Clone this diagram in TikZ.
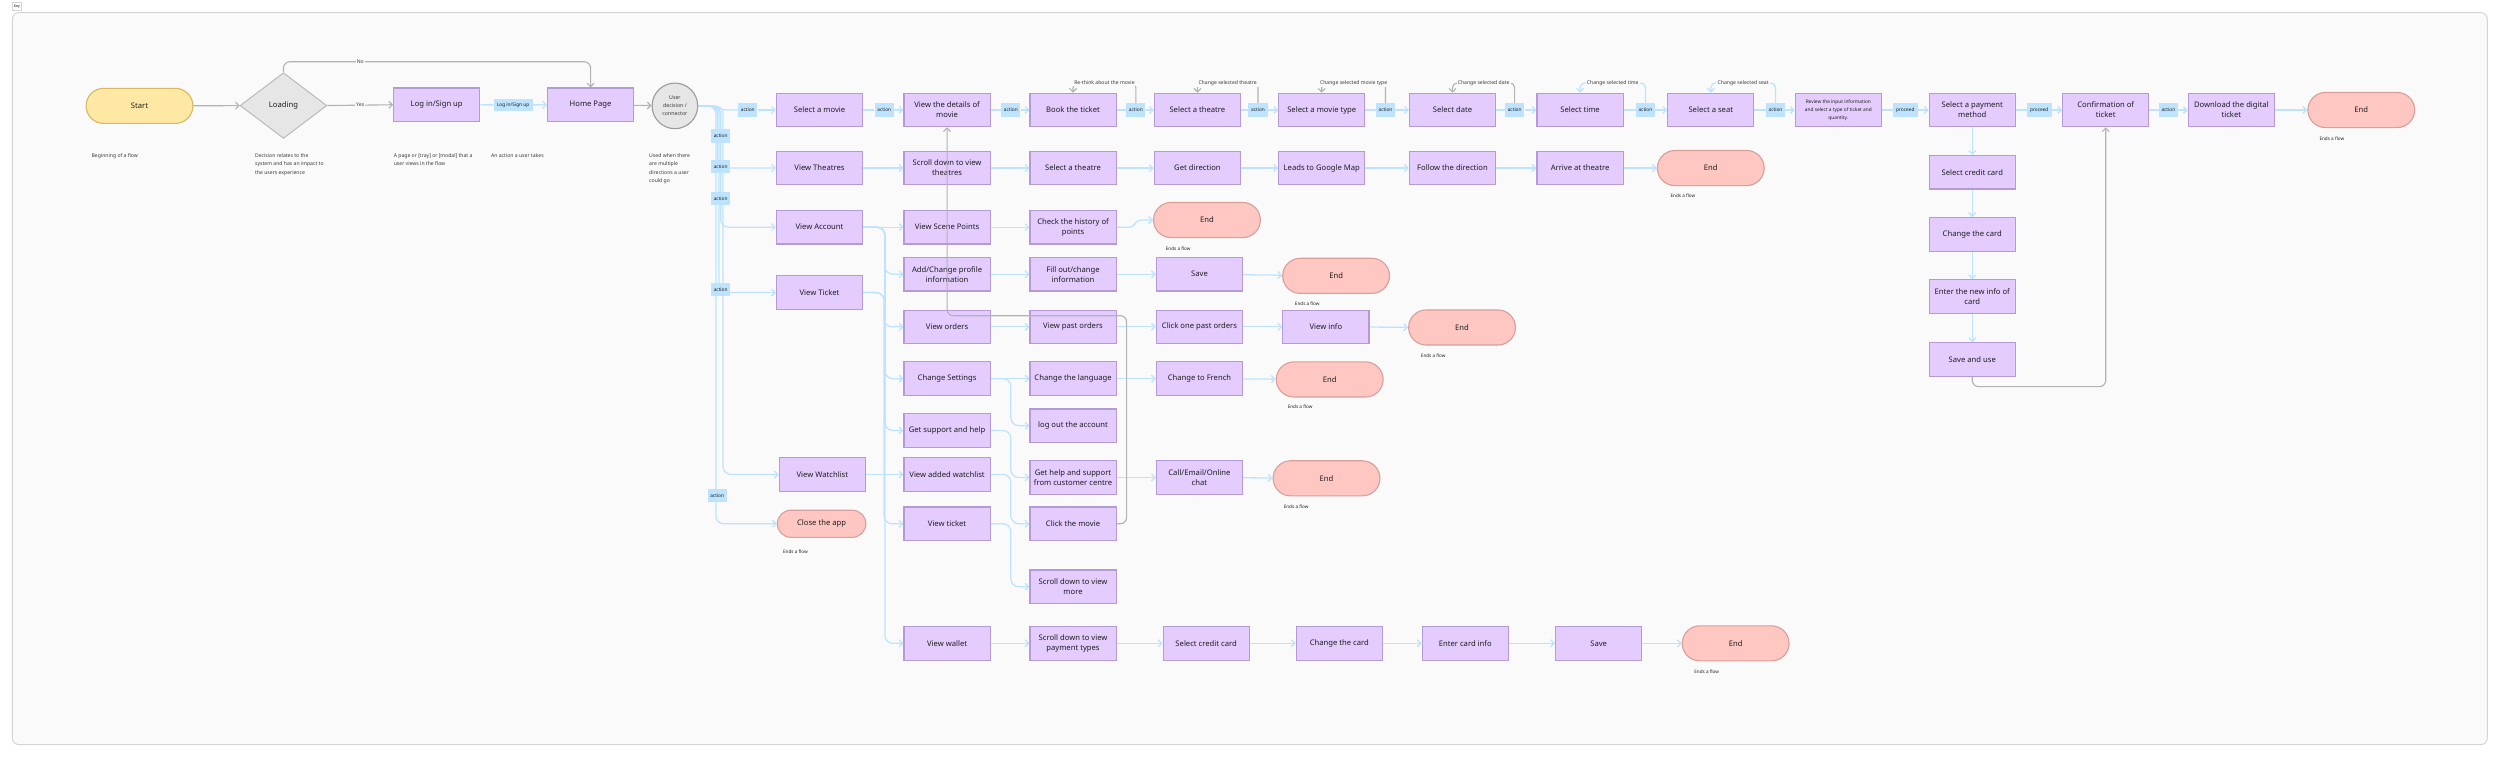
\documentclass[tikz,border=0pt]{standalone}
\usepackage{fontspec}
\setmainfont{Noto Sans}
\usetikzlibrary{arrows.meta,shapes.geometric}
\pgfdeclarelayer{bgA}
\pgfdeclarelayer{bgB}
\pgfsetlayers{bgA,bgB,main}
\definecolor{boxf}{HTML}{E4CCFF}
\definecolor{boxd}{HTML}{B49BD6}
\definecolor{endf}{HTML}{FFC7C2}
\definecolor{endd}{HTML}{D99F9A}
\definecolor{stf}{HTML}{FFE8A3}
\definecolor{std}{HTML}{D6B961}
\definecolor{gyf}{HTML}{E6E6E6}
\definecolor{gyd}{HTML}{B8B8B8}
\definecolor{bline}{HTML}{BDE3FF}
\definecolor{actf}{HTML}{BDE3FF}
\definecolor{gline}{HTML}{B3B3B3}
\definecolor{framef}{HTML}{FAFAFA}
\definecolor{framed}{HTML}{D4D4D4}
\definecolor{txt}{HTML}{1E1E1E}
\definecolor{txts}{HTML}{3A3A3A}
\newcommand\fzBox{\fontsize{4.8}{6.2}\selectfont}
\newcommand\fzSm{\fontsize{3.2}{5.2}\selectfont}
\newcommand\fzAct{\fontsize{3}{3.6}\selectfont}
\newcommand\fzRev{\fontsize{3}{4.9}\selectfont}
\newcommand\fzKey{\fontsize{2.2}{2.6}\selectfont}
\begin{document}
\begin{tikzpicture}[x=1pt,y=-1pt,
  pg/.style={draw=boxd, fill=boxf, line width=0.7pt, minimum width=54pt, minimum height=21pt, inner sep=0pt, align=center, font=\fzBox, text=txt},
  endp/.style={draw=endd, fill=endf, line width=0.7pt, rounded corners=11pt, minimum width=67pt, minimum height=22pt, inner sep=0pt, font=\fzBox\bfseries, text=txt},
  act/.style={fill=actf, inner sep=0pt, minimum width=12pt, minimum height=8.5pt, font=\fzAct, text=txt},
  lbl/.style={fill=framef, inner sep=0.8pt, font=\fzSm, text=txts},
  desc/.style={anchor=north west, align=left, inner sep=0pt, font=\fzSm, text=txts},
  efl/.style={anchor=west, inner sep=0pt, font=\fontsize{2.9}{3.4}\selectfont, text=txt},
  bln/.style={draw=bline, line width=0.8pt},
  bla/.style={bln, -{Straight Barb[length=2.2pt,width=4.4pt]}},
  grn/.style={draw=gline, line width=0.7pt},
  gra/.style={grn, -{Straight Barb[length=2.2pt,width=4.4pt]}}
]
\useasboundingbox (0,0) rectangle (1568,475);
\begin{pgfonlayer}{bgA}
\fill[white] (0,0) rectangle (1568,475);
\draw[fill=framef, draw=framed, line width=0.6pt, rounded corners=4pt] (7.8,7.9) rectangle (1560,467);
\end{pgfonlayer}
\node[draw=framed, fill=white, font=\fzKey, minimum width=5.7pt, minimum height=4.6pt, inner sep=0pt, line width=0.4pt] (key) at (10.6,4) {Key};

% ---------- legend row ----------
\node[draw=std, fill=stf, line width=0.7pt, rounded corners=11pt, minimum width=67pt, minimum height=22pt, inner sep=0pt, font=\fzBox, text=txt] (start) at (87.5,66.4) {Start};
\node[diamond, draw=gyd, fill=gyf, line width=0.6pt, minimum width=54.4pt, minimum height=41.2pt, inner sep=0pt, font=\fzBox, text=txt] (load) at (177.8,66.2) {Loading};
\node[pg] (login) at (273.9,65.7) {Log in/Sign up};
\node[act, minimum width=24.4pt, minimum height=7.6pt] (alog) at (321.8,65.8) {Log in/Sign up};
\node[pg] (home) at (370.4,65.7) {Home Page};
\node[circle, draw=gyd!85!black, fill=gyf, line width=0.7pt, minimum size=28.6pt, inner sep=0pt, align=center, font=\fontsize{3.3}{5}\selectfont, text=txts] (circ) at (423.3,66.4) {User\\decision /\\connector};

\node[desc] (d1) at (57.3,96.2) {Beginning of a flow};
\node[desc] (d2) at (159.8,96.2) {Decision relates to the\\system and has an impact to\\the users experience};
\node[desc] (d3) at (246.8,96.2) {A page or [tray] or [modal] that a\\user views in the flow};
\node[desc] (d4) at (307.8,96.2) {An action a user takes};
\node[desc] (d5) at (407,96.2) {Used when there\\are multiple\\directions a user\\could go};

% ---------- row 1 ----------
\node[pg] (sm) at (514,69) {Select a movie};
\node[pg] (vd) at (594,69) {View the details of\\movie};
\node[pg] (bt) at (673,69) {Book the ticket};
\node[pg] (st) at (751,69) {Select a theatre};
\node[pg] (smt) at (829,69) {Select a movie type};
\node[pg] (sd) at (911,69) {Select date};
\node[pg] (stm) at (991,69) {Select time};
\node[pg] (ss) at (1073,69) {Select a seat};
\node[pg, font=\fzRev] (rv) at (1153,69) {Review the input information\\and select a type of ticket and\\quantity.};
\node[pg] (spm) at (1237,69) {Select a payment\\method};
\node[pg] (conf) at (1320.7,69) {Confirmation of\\ticket};
\node[pg] (dl) at (1399.5,69) {Download the digital\\ticket};
\node[endp] (e1) at (1481,69) {End};
\node[efl] (f1) at (1454.6,86.8) {Ends a flow};

\node[act] (a1) at (469,69) {action};
\node[act] (a2) at (554.6,69) {action};
\node[act] (a3) at (634,69) {action};
\node[act] (a4) at (712.4,69) {action};
\node[act] (a5) at (789,69) {action};
\node[act] (a6) at (869,69) {action};
\node[act] (a7) at (950,69) {action};
\node[act] (a8) at (1032,69) {action};
\node[act] (a9) at (1113.6,69) {action};
\node[act, minimum width=15.5pt] (p1) at (1195,69) {proceed};
\node[act, minimum width=15.5pt] (p2) at (1279,69) {proceed};
\node[act] (a10) at (1360,69) {action};

\node[lbl] (l1) at (692.7,52) {Re-think about the movie};
\node[lbl] (l2) at (770,52) {Change selected theatre};
\node[lbl] (l3) at (849,52) {Change selected movie type};
\node[lbl] (l4) at (930.5,52) {Change selected date};
\node[lbl] (l5) at (1011.5,52) {Change selected time};
\node[lbl] (l6) at (1093.3,52) {Change selected seat};

% ---------- trunk labels ----------
\node[act] (t1) at (452,85.4) {action};
\node[act] (t2) at (452,104.3) {action};
\node[act] (t3) at (452,124.6) {action};
\node[act] (t4) at (452,181.5) {action};
\node[act] (t5) at (449.8,310.7) {action};

% ---------- row 2 ----------
\node[pg] (vt) at (514,105.4) {View Theatres};
\node[pg] (sdt) at (594,105.4) {Scroll down to view\\theatres};
\node[pg] (st2) at (673,105.4) {Select a theatre};
\node[pg] (gd) at (751,105.4) {Get direction};
\node[pg] (lgm) at (829,105.4) {Leads to Google Map};
\node[pg] (fd) at (911,105.4) {Follow the direction};
\node[pg] (aat) at (991,105.4) {Arrive at theatre};
\node[endp] (e2) at (1073,105.4) {End};
\node[efl] (f2) at (1047.6,123) {Ends a flow};

% ---------- rows 3 - 11 ----------
\node[pg] (va) at (514,142.5) {View Account};
\node[pg] (vsp) at (594,142.5) {View Scene Points};
\node[pg] (ch) at (673,142.5) {Check the history of\\points};
\node[endp] (e3) at (757,138) {End};
\node[efl] (f3) at (731,155.7) {Ends a flow};

\node[pg] (ac) at (594,172) {Add/Change profile\\information};
\node[pg] (fo) at (673,172) {Fill out/change\\information};
\node[pg] (sv) at (752.3,172) {Save};
\node[endp] (e4) at (838,173) {End};
\node[efl] (f4) at (812,190.5) {Ends a flow};

\node[pg] (vtk) at (514,183.5) {View Ticket};

\node[pg] (vo) at (594,205) {View orders};
\node[pg] (vpo) at (673,205) {View past orders};
\node[pg] (cpo) at (752.3,205) {Click one past orders};
\node[pg] (vi) at (831.6,205) {View info};
\node[endp] (e5) at (917,205.4) {End};
\node[efl] (f5) at (891,223) {Ends a flow};

\node[pg] (cs) at (594,237.5) {Change Settings};
\node[pg] (cl) at (673,237.5) {Change the language};
\node[pg] (cf) at (752.3,237.5) {Change to French};
\node[endp] (e6) at (834,238) {End};
\node[efl] (f6) at (807.5,255) {Ends a flow};

\node[pg] (gs) at (594,270) {Get support and help};
\node[pg] (lo) at (673,267) {log out the account};

\node[pg] (vw) at (515.8,297.6) {View Watchlist};
\node[pg] (vaw) at (594,297.6) {View added watchlist};
\node[pg] (gh) at (673,299.5) {Get help and support\\from customer centre};
\node[pg] (ce) at (752.3,299.5) {Call/Email/Online\\chat};
\node[endp] (e8) at (832,300) {End};
\node[efl] (f8) at (805,317.6) {Ends a flow};

\node[draw=endd, fill=endf, line width=0.7pt, rounded corners=8.5pt, minimum width=55.5pt, minimum height=17pt, inner sep=0pt, font=\fzBox, text=txt] (close) at (515.3,328.5) {Close the app};
\node[efl] (f9) at (491,346) {Ends a flow};
\node[pg] (vtt) at (594,328.5) {View ticket};
\node[pg] (cm) at (673,328.5) {Click the movie};

\node[pg] (sdm) at (673,368) {Scroll down to view\\more};

\node[pg] (vwal) at (594,403.5) {View wallet};
\node[pg] (sdp) at (673,403.5) {Scroll down to view\\payment types};
\node[pg] (scc2) at (756.5,403.5) {Select credit card};
\node[pg] (chc2) at (840,403.5) {Change the card};
\node[pg] (eci) at (919,403.5) {Enter card info};
\node[pg] (sv2) at (1002.7,403.5) {Save};
\node[endp] (e11) at (1088.6,403.5) {End};
\node[efl] (f11) at (1062.5,421.6) {Ends a flow};

% ---------- payment column ----------
\node[pg] (scc) at (1237,108) {Select credit card};
\node[pg] (chc) at (1237,147) {Change the card};
\node[pg] (eni) at (1237,186) {Enter the new info of\\card};
\node[pg] (sau) at (1237,225.5) {Save and use};

% ---------- connectors ----------
\begin{pgfonlayer}{bgB}
\draw[gra] (start) -- (load);
\draw[gra] (load.east) -- node[lbl] (yes) {Yes} (login.west);
\draw[bln] (login) -- (alog);
\draw[bla] (alog) -- (home);
\draw[gra] (home) -- (circ);
\draw[gra, rounded corners=4pt] (load.north) -- (177.8,38.7) -- (370.4,38.7) -- (home.north);

\draw[bln] (circ.east) -- (445,66.4) to[out=0,in=180] (456,69) -- (a1.west);
\draw[bla] (a1) -- (sm);
\foreach \p/\q/\r in {sm/a2/vd, vd/a3/bt, bt/a4/st, st/a5/smt, smt/a6/sd, sd/a7/stm, stm/a8/ss, ss/a9/rv, rv/p1/spm, spm/p2/conf, conf/a10/dl}
  {\draw[bln] (\p) -- (\q); \draw[bla] (\q) -- (\r);}
\draw[bla] (dl) -- (e1);

\draw[gra, rounded corners=3pt] (a4.north) -- (712.4,52) -- (673,52) -- (bt.north);
\draw[gra, rounded corners=3pt] (a5.north) -- (789,52) -- (751,52) -- (st.north);
\draw[gra, rounded corners=3pt] (a6.north) -- (869,52) -- (829,52) -- (smt.north);
\draw[gra, rounded corners=3pt] (a7.north) -- (950,52) -- (911,52) -- (sd.north);
\draw[bla, rounded corners=3pt] (a8.north) -- (1032,52) -- (991,52) -- (stm.north);
\draw[bla, rounded corners=3pt] (a9.north) -- (1113.6,52) -- (1073,52) -- (ss.north);

\draw[bla, rounded corners=5pt] (circ.east) -| (450,105.4) -- (vt.west);
\draw[bla, rounded corners=5pt] (circ.east) -| (452,142.5) -- (va.west);
\draw[bla, rounded corners=5pt] (circ.east) -| (451,183.5) -- (vtk.west);
\draw[bla, rounded corners=5pt] (circ.east) -| (453.5,297.6) -- (vw.west);
\draw[bla, rounded corners=5pt] (circ.east) -| (449,328.5) -- (close.west);

\foreach \p/\q in {vt/sdt, sdt/st2, st2/gd, gd/lgm, lgm/fd, fd/aat, aat/e2}
  {\draw[bla] (\p) -- (\q);}

\draw[bla] (va) -- (vsp);
\draw[bla] (vsp) -- (ch);
\draw[bla] (ch.east) -- ++(8,0) to[out=0,in=180] ++(7,-4.5) -- (e3.west);
\draw[bla, rounded corners=5pt] (va.east) -| (555,172) -- (ac.west);
\draw[bla, rounded corners=5pt] (vtk.east) -| (554.5,205) -- (vo.west);
\draw[bla, rounded corners=5pt] (va.east) -| (555,237.5) -- (cs.west);
\draw[bla, rounded corners=5pt] (va.east) -| (555,270) -- (gs.west);
\draw[bla, rounded corners=5pt] (vtk.east) -| (554.5,328.5) -- (vtt.west);
\draw[bla, rounded corners=5pt] (va.east) -| (555,403.5) -- (vwal.west);

\foreach \p/\q in {ac/fo, fo/sv, sv/e4, vo/vpo, vpo/cpo, cpo/vi, vi/e5, cs/cl, cl/cf, cf/e6, gh/ce, ce/e8, vw/vaw, vwal/sdp, sdp/scc2, scc2/chc2, chc2/eci, eci/sv2, sv2/e11}
  {\draw[bla] (\p) -- (\q);}

\draw[bla, rounded corners=5pt] (cs.east) -| (634,267) -- (lo.west);
\draw[bla, rounded corners=5pt] (gs.east) -| (634,299.5) -- (gh.west);
\draw[bla, rounded corners=5pt] (vaw.east) -| (634,328.5) -- (cm.west);
\draw[bla, rounded corners=5pt] (vtt.east) -| (634,368) -- (sdm.west);

\draw[bla] (spm) -- (scc);
\draw[bla] (scc) -- (chc);
\draw[bla] (chc) -- (eni);
\draw[bla] (eni) -- (sau);
\end{pgfonlayer}

\node[lbl] (no) at (226,38.7) {No};
\draw[gra, rounded corners=4pt] (cm.east) -- (706.6,328.5) -- (706.6,198) -- (594,198) -- (vd.south);
\draw[gra, rounded corners=4pt] (sau.south) -- (1237,242.5) -- (1320.7,242.5) -- (conf.south);
\end{tikzpicture}
\end{document}
